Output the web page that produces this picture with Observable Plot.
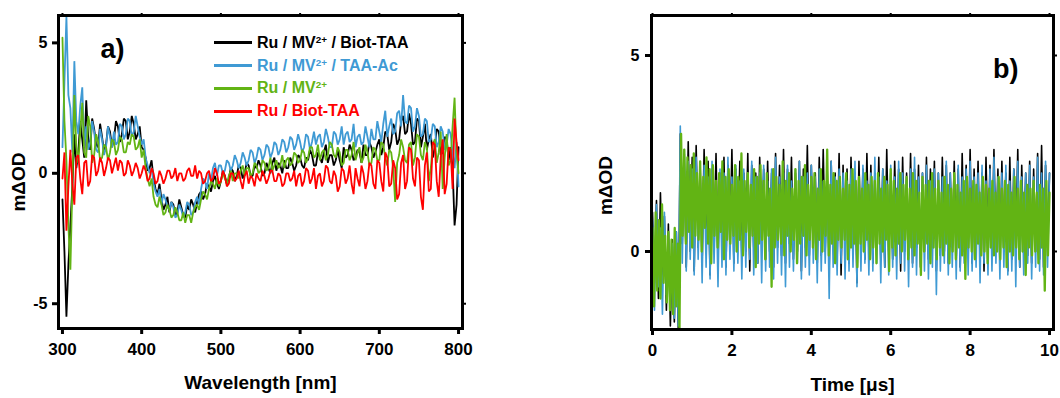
<!DOCTYPE html>
<html><head><meta charset="utf-8">
<script src="https://cdn.jsdelivr.net/npm/d3@7"></script>
<script src="https://cdn.jsdelivr.net/npm/@observablehq/plot@0.6"></script>
<style>
body{margin:0;background:#fff;}
#wrap{position:relative;width:1060px;height:398px;display:flex;font-family:"Liberation Sans",Arial,sans-serif;font-weight:bold;}
#legend{position:absolute;left:214px;top:31.6px;}
.row{display:flex;align-items:center;height:22.7px;font-size:16px;white-space:nowrap;}
.sw{width:38px;height:3px;margin-right:5px;}
sup{font-size:0.62em;vertical-align:0.5em;line-height:0;}
</style></head><body>
<div id="wrap"><div id="a"></div><div id="b"></div><div id="legend"></div></div>
<script>
// ---------- Panel a: transient absorption spectra ----------
const seriesNames = ["Ru / MV<sup>2+</sup> / Biot-TAA", "Ru / MV<sup>2+</sup> / TAA-Ac", "Ru / MV<sup>2+</sup>", "Ru / Biot-TAA"];
const seriesColors = ["#000000", "#3f9ad4", "#62b414", "#ff0000"];
const wlStart = 300, wlStep = 2.5; // nm
const blackA = [
 -1.0,-3.0, -5.5,-3.5, -2.0,-0.5, 1.5,0.2, 0.8,2.0, 1.3,0.6, 2.8,1.4, 0.9,2.1, 1.7,1.1, 1.0,1.9,
 1.4,0.8, 1.1,1.8, 1.6,1.0, 1.3,2.0, 1.8,1.2, 1.5,2.1, 2.0,1.3, 1.6,2.2, 1.9,1.3, 1.5,1.8,
 1.0,0.9, 0.6,0.1, 0.2,0.5, -0.2,-0.6, -0.8,-0.4, -1.0,-1.4, -1.2,-0.9, -1.5,-1.1, -1.2,-1.6, -1.5,-1.0,
 -1.3,-1.6, -1.7,-1.2, -1.4,-1.0, -1.2,-1.5, -1.1,-0.8, -0.7,-1.0, -0.8,-0.4, -0.5,-0.7, -0.3,-0.1, -0.4,-0.6,
 -0.3,0.1, -0.1,-0.4, -0.2,0.2, 0.1,-0.3, -0.1,0.3, 0.2,-0.2, 0.0,0.4, 0.3,-0.1, -0.1,0.3, 0.2,0.5,
 0.3,-0.1, 0.0,0.4, 0.2,0.0, 0.4,0.6, 0.1,0.4, 0.3,0.0, 0.5,0.2, 0.2,0.6, 0.4,0.1, 0.3,0.7,
 0.6,0.3, 0.2,0.6, 0.5,0.9, 0.7,0.3, 0.3,0.8, 0.6,0.4, 0.8,1.1, 0.4,0.7, 0.7,0.3, 0.5,0.9,
 0.5,0.2, 1.0,0.6, 0.7,1.1, 0.9,0.5, 0.6,0.9, 0.8,0.4, 1.1,0.7, 0.7,1.2, 1.0,0.6, 0.8,1.1,
 1.3,0.7, 1.0,1.6, 1.5,0.9, 1.2,1.9, 1.7,1.1, 1.3,2.0, 2.2,1.5, 1.6,2.3, 1.9,1.1, 1.2,2.1,
 2.0,1.0, 1.4,1.9, 0.9,1.3, 1.5,0.6, 1.0,1.7, 1.6,0.7, 0.8,1.4, 1.3,0.5, 1.0,0.2, -2.0,-1.2,
 1.0];
const blueA = [
 1.0,3.5, 6.0,3.0, 2.5,0.8, 4.3,2.0, 1.5,2.6, 3.3,1.0, 1.8,0.9, 1.2,2.0, 1.6,0.9, 0.8,1.7,
 1.3,0.7, 1.0,1.8, 1.4,1.0, 1.6,1.1, 1.2,1.9, 1.8,1.3, 1.5,2.1, 2.0,1.4, 1.6,2.2, 1.8,1.4,
 1.1,1.3, 0.6,0.3, 0.0,0.2, -0.4,-0.7, -0.9,-0.6, -1.2,-0.8, -1.0,-1.3, -1.4,-1.1, -1.3,-1.7, -1.6,-1.2,
 -1.4,-1.7, -1.5,-1.1, -1.2,-1.6, -1.5,-1.1, -0.9,-1.2, -0.6,-0.2, -0.3,-0.6, 0.0,-0.3, 0.2,0.4, -0.1,0.3,
 0.3,0.0, 0.1,0.5, 0.4,0.1, 0.3,0.7, 0.5,0.2, 0.4,0.8, 0.6,0.3, 0.5,0.9, 0.8,0.4, 0.6,1.0,
 0.9,0.5, 0.7,1.1, 1.0,0.6, 0.8,1.2, 1.1,0.7, 0.9,1.3, 1.2,0.8, 1.0,1.4, 1.3,0.9, 1.1,1.5,
 1.2,0.8, 1.0,1.5, 1.4,0.9, 1.2,1.6, 1.1,1.4, 1.5,1.0, 1.2,1.7, 1.4,1.0, 1.0,1.6, 1.5,1.1,
 1.3,1.8, 1.1,1.5, 1.6,1.2, 1.3,1.9, 1.0,1.4, 1.5,1.1, 1.2,1.8, 1.4,1.0, 1.7,1.3, 1.3,2.0,
 1.6,1.2, 1.9,2.4, 1.4,1.8, 2.1,1.5, 1.6,2.3, 2.4,1.8, 3.0,2.0, 1.9,2.6, 2.5,1.6, 1.8,2.5,
 2.2,1.4, 1.5,2.1, 2.0,1.2, 1.3,1.9, 1.8,1.0, 1.2,1.8, 1.6,0.9, 1.1,1.7, 1.5,0.8, 0.2,1.2,
 -0.5];
const greenA = [
 5.2,2.0, 0.5,-2.0, -3.7,-0.5, 3.0,1.0, 0.4,1.6, 2.7,0.8, 0.6,2.2, 1.8,0.4, 0.7,1.5, 1.2,0.5,
 0.6,1.1, 1.0,0.5, 0.8,1.3, 1.2,0.7, 0.9,1.4, 1.3,0.8, 0.8,1.2, 1.1,1.5, 1.4,0.9, 1.0,1.3,
 0.6,0.9, 0.2,-0.2, -0.5,-0.2, -0.9,-1.2, -1.3,-0.9, -1.2,-1.6, -1.5,-1.2, -1.4,-1.7, -1.6,-1.3, -1.5,-1.8,
 -1.8,-1.5, -1.9,-1.6, -1.6,-1.9, -1.5,-1.3, -1.2,-1.4, -1.0,-0.7, -0.8,-1.0, -0.6,-0.3, -0.4,-0.6, -0.2,-0.5,
 -0.3,0.0, -0.2,-0.4, -0.1,0.1, -0.3,0.0, 0.0,-0.2, 0.1,0.3, -0.1,0.2, 0.2,-0.1, 0.0,0.4, 0.3,0.0,
 0.1,0.5, 0.4,0.1, 0.2,0.6, 0.1,0.3, 0.5,0.2, 0.3,0.7, 0.2,0.5, 0.6,0.3, 0.4,0.8, 0.7,0.4,
 0.5,0.9, 0.8,0.4, 0.6,1.0, 1.0,0.6, 0.7,1.1, 0.5,0.8, 0.9,0.5, 0.7,1.2, 1.1,0.7, 0.6,1.0,
 0.8,0.3, 0.4,0.9, 0.9,0.5, 0.7,1.2, 0.5,0.8, 1.0,0.4, 0.6,1.1, 0.8,0.3, 0.4,1.0, 0.9,0.5,
 0.5,1.2, 1.1,0.6, 0.3,0.9, 0.8,0.2, -1.1,0.4, 0.7,1.3, 1.0,0.5, 0.4,1.1, 1.2,0.3, 0.6,1.5,
 1.4,0.7, 0.5,1.2, 1.0,-0.3, 0.2,1.1, 1.3,0.4, 0.8,1.6, -0.6,0.6, 1.5,0.3, 0.5,1.8, 2.9,0.8,
 0.0];
const redA = [
 -0.2,0.8, -2.2,-0.5, 0.9,-0.4, -1.2,0.6, 0.7,-0.2, -0.8,0.4, 0.5,-0.5, -0.3,0.7, 0.6,-0.1, 0.1,0.6,
 0.4,-0.1, 0.2,0.6, 0.5,0.0, 0.3,0.6, 0.1,0.5, 0.4,-0.1, 0.0,0.5, 0.3,-0.1, 0.1,0.4, 0.2,-0.2,
 0.0,0.3, 0.1,-0.3, -0.2,0.2, 0.0,-0.4, -0.3,0.1, -0.1,-0.4, -0.2,0.1, 0.1,-0.2, -0.1,0.2, -0.3,0.0,
 0.0,-0.3, -0.2,0.1, 0.2,-0.1, -0.1,0.3, -0.2,0.1, 0.0,-0.4, -0.3,0.0, 0.1,-0.3, -0.2,0.2, 0.0,-0.4,
 -0.3,0.1, -0.1,-0.5, -0.4,0.0, 0.0,-0.3, -0.2,0.1, -0.3,-0.6, -0.1,0.1, -0.4,-0.1, -0.2,-0.5, 0.0,-0.2,
 -0.3,0.1, -0.1,-0.4, -0.2,0.1, 0.1,-0.3, -0.3,0.0, -0.1,-0.5, -0.4,0.0, 0.0,-0.3, -0.2,0.1, -0.5,-0.1,
 0.0,-0.5, -0.3,0.2, 0.1,-0.4, -0.2,0.2, -0.6,-0.1, 0.0,-0.5, -0.3,0.3, 0.2,-0.3, -0.4,0.1, -0.1,-0.7,
 -0.5,0.2, 0.1,-0.4, -0.2,0.3, -0.4,-0.8, 0.2,-0.2, -0.5,0.3, 0.0,-0.6, -0.3,0.4, 0.3,-0.4, -0.6,0.5,
 0.4,-0.3, -0.7,0.8, 0.6,-0.5, -0.4,0.5, 0.2,-1.0, -0.8,0.4, 0.7,-0.6, -0.3,1.0, 0.9,-0.2, -0.5,0.6,
 0.5,-0.9, -1.4,0.3, 0.8,-0.7, -0.6,1.2, 1.1,-0.3, -0.9,0.6, 1.3,-0.8, -0.4,1.0, 0.9,-0.6, 2.1,1.2,
 0.5];
const xTicksA = [300, 400, 500, 600, 700, 800];
const yTicksA = [-5, 0, 5];
const xLabelA = "Wavelength [nm]";
const panelLabelA = "a)";

// ---------- Panel b: kinetic traces ----------
const tStepGreen = 0.04, tStepOther = 0.05; // μs
const blackB = [
 1.0,-0.8,1.3,-1.2,1.5,-0.6,0.9,-1.5,0.7,-1.9,
 0.3,-1.8,0.5,-2.0,3.0,0.2,2.5,-0.4,2.8,0.0,
 2.4,-0.5,2.7,0.1,2.2,-0.3,2.6,0.2,2.3,-0.6,
 2.1,0.0,2.5,-0.2,2.0,0.3,2.4,-0.4,2.2,0.1,
 2.6,-0.3,2.1,0.2,2.3,-0.1,2.0,0.0,2.5,-0.5,
 2.2,0.1,2.0,-0.3,2.4,0.2,2.1,-0.2,2.3,0.0,
 2.0,-0.4,2.5,0.1,2.2,-0.1,2.6,-0.3,2.1,0.2,
 2.4,-0.2,2.0,0.0,2.3,-0.5,2.1,0.1,2.7,-0.1,
 2.2,0.2,2.0,-0.3,2.4,-0.1,2.6,0.0,2.1,-0.4,
 2.3,0.1,2.0,-0.2,2.5,-0.6,2.2,0.0,2.1,-0.3,
 2.4,-0.1,2.0,-0.8,2.3,0.1,2.1,-0.2,2.5,0.0,
 2.2,-0.3,2.0,0.1,2.4,-0.2,2.1,-0.4,2.6,0.0,
 2.0,-0.2,2.3,0.1,2.1,-0.5,2.4,0.0,2.0,-0.1,
 2.5,-0.3,2.1,0.1,2.2,-0.4,2.0,0.0,2.4,-0.2,
 2.1,0.1,2.3,-0.5,2.0,-0.1,2.4,0.0,2.2,-0.3,
 2.0,0.1,2.3,-0.2,2.1,-0.4,2.5,0.0,2.2,-0.1,
 2.6,-0.3,2.1,0.1,2.3,-0.2,2.0,-0.5,2.4,0.0,
 2.2,-0.1,2.6,0.1,2.1,-0.3,2.3,0.0,2.0,-0.5,
 2.4,-0.2,2.1,0.1,2.6,-0.4,2.2,0.0,2.0,-0.1,
 2.3,-0.3,2.1,0.0,2.5,-0.2,2.7,-0.4,2.2,0.1,
 2.0];
const blueB = [
 0.8,-1.5,1.2,-0.9,0.6,-1.6,1.0,-1.1,0.4,-1.4,
 0.2,-1.7,0.5,-1.9,3.2,-0.3,2.6,-0.5,2.3,-0.2,
 2.1,-0.6,2.4,-0.2,2.0,-0.8,2.2,-0.4,1.9,-0.7,
 2.3,-0.3,1.8,-0.9,2.1,-0.4,2.0,-0.6,2.4,-0.2,
 1.9,-0.5,2.2,-0.3,1.8,-0.7,2.1,-0.4,2.0,-0.2,
 2.3,-0.6,1.9,-0.3,2.0,-0.8,2.2,-0.5,1.8,-0.4,
 2.1,-0.7,2.4,-0.3,1.9,-0.6,2.0,-0.9,2.2,-0.4,
 1.8,-0.5,2.1,-0.3,2.3,-0.7,1.9,-0.4,2.0,-0.6,
 2.2,-0.3,1.9,-0.8,2.1,-0.5,1.8,-0.3,2.0,-1.2,
 2.3,-0.4,1.9,-0.6,2.1,-0.3,2.0,-0.7,1.8,-0.5,
 2.1,-0.4,2.3,-0.9,1.9,-0.5,2.2,-0.3,1.8,-0.6,
 2.0,-0.5,2.4,-0.3,1.9,-0.8,2.1,-0.4,1.8,-0.6,
 2.2,-0.4,1.9,-0.7,2.3,-0.3,2.0,-0.5,1.8,-0.9,
 2.1,-0.4,2.4,-0.6,1.9,-0.3,2.0,-0.5,2.2,-0.7,
 1.8,-0.4,2.1,-1.1,2.0,-0.5,1.9,-0.3,2.3,-0.6,
 2.0,-0.4,1.8,-0.7,2.2,-0.5,1.9,-0.3,2.1,-0.6,
 2.3,-0.5,1.9,-0.4,2.0,-0.8,2.2,-0.3,1.8,-0.6,
 2.1,-0.5,2.4,-0.3,1.9,-0.7,2.0,-0.4,2.2,-0.6,
 1.8,-0.5,2.1,-0.9,2.3,-0.4,1.9,-0.6,2.0,-0.3,
 2.2,-0.7,1.9,-0.4,2.4,-0.5,2.0,-0.6,2.3,-0.4,
 2.0];
const greenB = [
 0.6,-1.4,1.0,-1.0,0.8,-1.2,1.2,-0.8,0.4,-1.3,
 0.5,-1.5,0.3,-1.6,0.6,-1.4,0.2,-2.0,3.0,0.4,
 2.6,0.2,2.4,0.5,2.2,0.1,2.5,0.4,2.0,0.3,
 2.3,0.0,1.9,0.6,2.4,0.2,2.1,-0.3,2.2,0.4,
 1.8,0.1,2.0,0.5,2.3,-0.2,1.9,0.3,2.1,0.2,
 1.7,0.4,2.2,0.0,1.9,0.3,2.5,-0.1,1.8,0.5,
 2.0,0.1,1.7,0.4,2.1,-0.4,1.9,0.2,2.2,0.3,
 1.8,-0.2,2.0,0.4,1.6,-0.9,2.1,0.1,1.9,0.3,
 1.7,0.2,2.3,-0.1,1.8,0.4,2.0,0.0,1.6,0.3,
 2.1,-0.3,1.8,0.2,1.9,0.4,2.2,-0.1,1.7,0.3,
 1.9,0.1,2.0,-0.2,1.6,0.3,2.1,0.0,1.8,0.4,
 2.6,-0.1,1.7,0.2,2.0,-0.3,1.8,0.3,1.9,0.1,
 1.6,0.3,2.0,-0.2,1.7,0.1,2.1,0.2,1.8,-0.4,
 1.9,0.2,1.6,0.0,2.0,0.3,1.7,-0.2,1.9,0.1,
 1.8,-0.3,2.0,0.2,1.6,0.0,1.9,0.3,1.7,-0.5,
 2.1,0.1,1.8,-0.1,1.6,0.2,2.0,0.0,1.7,0.3,
 1.9,-0.2,1.6,0.1,2.0,-0.1,1.8,0.2,1.5,-0.6,
 1.9,0.0,1.7,0.2,1.8,-0.3,2.0,0.1,1.6,-0.2,
 1.8,0.1,1.5,-0.1,1.9,0.2,1.7,-0.3,1.6,0.0,
 2.0,-0.2,1.7,0.1,1.5,-0.1,1.8,-0.7,1.9,0.1,
 1.6,0.0,1.8,-0.2,1.7,0.2,1.5,-0.1,1.9,0.0,
 1.7,-0.3,1.6,0.1,1.8,-0.1,1.5,0.0,1.9,-0.2,
 1.6,0.1,1.8,-0.4,1.7,0.0,1.5,-0.1,1.9,0.1,
 1.6,-0.2,1.8,0.0,1.5,-0.6,1.7,0.1,1.6,-0.1,
 1.8,0.0,1.5,-0.3,1.7,0.1,1.6,-1.0,1.8,-0.1,
 1.5];
const xTicksB = [0, 2, 4, 6, 8, 10];
const yTicksB = [0, 5];
const xLabelB = "Time [μs]";
const yLabel = "mΔOD";
const panelLabelB = "b)";

if (blackA.length !== 201 || blueA.length !== 201 || greenA.length !== 201 || redA.length !== 201) throw new Error("panel a lengths " + [blackA.length, blueA.length, greenA.length, redA.length]);
if (blackB.length !== 201 || blueB.length !== 201 || greenB.length !== 251) throw new Error("panel b lengths " + [blackB.length, blueB.length, greenB.length]);

const font = '"Liberation Sans", Arial, sans-serif';
const style = {fontFamily: font, fontWeight: "bold", background: "white", overflow: "visible", color: "black"};

const toRows = (vals, x0, step) => vals.map((v, i) => ({x: x0 + i * step, y: v}));

const linesA = [blackA, blueA, greenA, redA].map((vals, k) =>
  Plot.line(toRows(vals, wlStart, wlStep), {x: "x", y: "y", stroke: seriesColors[k], strokeWidth: 1.8, strokeLinejoin: "miter"}));

const plotA = Plot.plot({
  width: 530, height: 398, marginLeft: 58, marginRight: 68, marginTop: 15, marginBottom: 70,
  style,
  x: {domain: [295, 805]},
  y: {domain: [-5.95, 6.05]},
  marks: [
    ...linesA,
    Plot.frame({strokeWidth: 3}),
    Plot.axisX({ticks: xTicksA, tickSize: 6, strokeWidth: 3, tickPadding: 8, fontSize: 17, label: null, tickFormat: d => String(d)}),
    Plot.axisX({anchor: "top", ticks: xTicksA, tickSize: 3, strokeWidth: 2, tickFormat: () => "", label: null}),
    Plot.axisY({ticks: yTicksA, tickSize: 6, strokeWidth: 3, tickPadding: 5, fontSize: 16, label: null, tickFormat: d => String(d)}),
    Plot.axisY({anchor: "right", ticks: yTicksA, tickSize: 3, strokeWidth: 2, tickFormat: () => "", label: null}),
    Plot.text([xLabelA], {text: d => d, frameAnchor: "bottom", dy: 60, fontSize: 19}),
    Plot.text([yLabel], {text: d => d, frameAnchor: "left", dx: -40, dy: 10, rotate: -90, textAnchor: "middle", lineAnchor: "middle", fontSize: 19}),
    Plot.text([panelLabelA], {text: d => d, frameAnchor: "top-left", dx: 42, dy: 23, fontSize: 27})
  ]
});

const linesB = [[blackB, tStepOther, 0, 1.6], [blueB, tStepOther, 1, 1.6], [greenB, tStepGreen, 2, 2.3]].map(([vals, step, k, w]) =>
  Plot.line(toRows(vals, 0, step), {x: "x", y: "y", stroke: seriesColors[k], strokeWidth: w}));

const plotB = Plot.plot({
  width: 530, height: 398, marginLeft: 121, marginRight: 7, marginTop: 15, marginBottom: 69,
  style,
  x: {domain: [-0.025, 10.1]},
  y: {domain: [-1.99, 6.02]},
  marks: [
    ...linesB,
    Plot.frame({strokeWidth: 3}),
    Plot.axisX({ticks: xTicksB, tickSize: 6, strokeWidth: 3, tickPadding: 8, fontSize: 17, label: null, tickFormat: d => String(d)}),
    Plot.axisX({anchor: "top", ticks: xTicksB, tickSize: 3, strokeWidth: 2, tickFormat: () => "", label: null}),
    Plot.axisY({ticks: yTicksB, tickSize: 6, strokeWidth: 3, tickPadding: 6, fontSize: 16, label: null, tickFormat: d => String(d)}),
    Plot.axisY({anchor: "right", ticks: yTicksB, tickSize: 3, strokeWidth: 2, tickFormat: () => "", label: null}),
    Plot.text([xLabelB], {text: d => d, frameAnchor: "bottom", dy: 61, fontSize: 19}),
    Plot.text([yLabel], {text: d => d, frameAnchor: "left", dx: -46, dy: 13, rotate: -90, textAnchor: "middle", lineAnchor: "middle", fontSize: 19}),
    Plot.text([panelLabelB], {text: d => d, frameAnchor: "top-right", dx: -35, dy: 43, fontSize: 27})
  ]
});

document.getElementById("a").appendChild(plotA);
document.getElementById("b").appendChild(plotB);

const legend = document.getElementById("legend");
seriesNames.forEach((name, k) => {
  const row = document.createElement("div");
  row.className = "row";
  row.style.color = seriesColors[k];
  row.innerHTML = `<span class="sw" style="background:${seriesColors[k]}"></span><span>${name}</span>`;
  legend.appendChild(row);
});
</script>
</body></html>
